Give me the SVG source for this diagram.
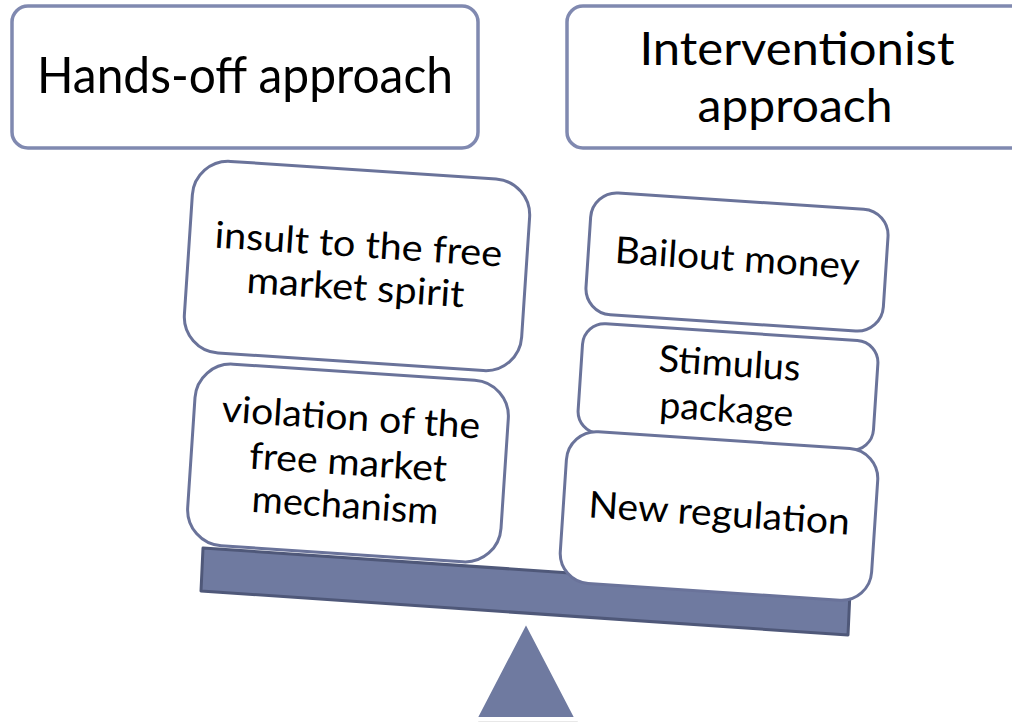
<svg xmlns="http://www.w3.org/2000/svg" width="1012" height="726" viewBox="0 0 1012 726">
  <style>
    .top { fill: #ffffff; stroke: #8089b0; stroke-width: 3.5; }
    .card { fill: #ffffff; stroke: #6a739a; stroke-width: 3; }
    .t { font-family: Lato, "Open Sans", "Liberation Sans", sans-serif; fill: #000000; text-anchor: middle; }
    .big { font-size: 50px; }
    .mid { font-size: 46px; }
    .sm { font-size: 37px; }
  </style>
  <rect width="1012" height="726" fill="#ffffff"/>

  <g id="beam">
    <polygon points="203,548 850,592 848,635 201,591" fill="#6f7aa0" stroke="#4f5879" stroke-width="3" stroke-linejoin="round"/>
  </g>
  <g id="fulcrum">
    <polygon points="528,625 478,722 578,722" fill="#d8d8d8" opacity="0.6"/>
    <polygon points="526,621 475,719 577,719" fill="#6f7aa0" stroke="#ffffff" stroke-width="4" stroke-linejoin="round"/>
  </g>

  <g id="hands-off">
    <rect class="top" x="12" y="6" width="466" height="142" rx="16"/>
    <text class="t big" x="245" y="93" textLength="416" lengthAdjust="spacingAndGlyphs">Hands-off approach</text>
  </g>
  <g id="interventionist">
    <rect class="top" x="567" y="6" width="480" height="142" rx="16"/>
    <text class="t mid" x="797" y="65" textLength="315" lengthAdjust="spacingAndGlyphs">Interventionist</text>
    <text class="t mid" x="795" y="122" textLength="195" lengthAdjust="spacingAndGlyphs">approach</text>
  </g>

  <g id="insult" transform="translate(357,266) rotate(3.8)">
    <rect class="card" x="-169" y="-96" width="338" height="192" rx="36"/>
    <text class="t sm" x="0" y="-9" textLength="288" lengthAdjust="spacingAndGlyphs">insult to the free</text>
    <text class="t sm" x="0" y="34" textLength="218" lengthAdjust="spacingAndGlyphs">market spirit</text>
  </g>
  <g id="violation" transform="translate(348,463) rotate(3.8)">
    <rect class="card" x="-157" y="-91" width="314" height="182" rx="36"/>
    <text class="t sm" x="0" y="-33" textLength="259" lengthAdjust="spacingAndGlyphs">violation of the</text>
    <text class="t sm" x="0" y="12" textLength="198" lengthAdjust="spacingAndGlyphs">free market</text>
    <text class="t sm" x="0" y="55" textLength="187" lengthAdjust="spacingAndGlyphs">mechanism</text>
  </g>

  <g id="bailout" transform="translate(737,262) rotate(3.8)">
    <rect class="card" x="-149" y="-61" width="298" height="122" rx="26"/>
    <text class="t sm" x="0" y="9" textLength="245" lengthAdjust="spacingAndGlyphs">Bailout money</text>
  </g>
  <g id="stimulus" transform="translate(728,387) rotate(3.8)">
    <rect class="card" x="-148" y="-55" width="296" height="110" rx="22"/>
    <text class="t sm" x="0" y="-11" textLength="142" lengthAdjust="spacingAndGlyphs">Stimulus</text>
    <text class="t sm" x="0" y="35" textLength="134" lengthAdjust="spacingAndGlyphs">package</text>
  </g>
  <g id="new-regulation" transform="translate(719,516) rotate(3.8)">
    <rect class="card" x="-156" y="-76" width="312" height="152" rx="30"/>
    <text class="t sm" x="0" y="10" textLength="262" lengthAdjust="spacingAndGlyphs">New regulation</text>
  </g>
</svg>
